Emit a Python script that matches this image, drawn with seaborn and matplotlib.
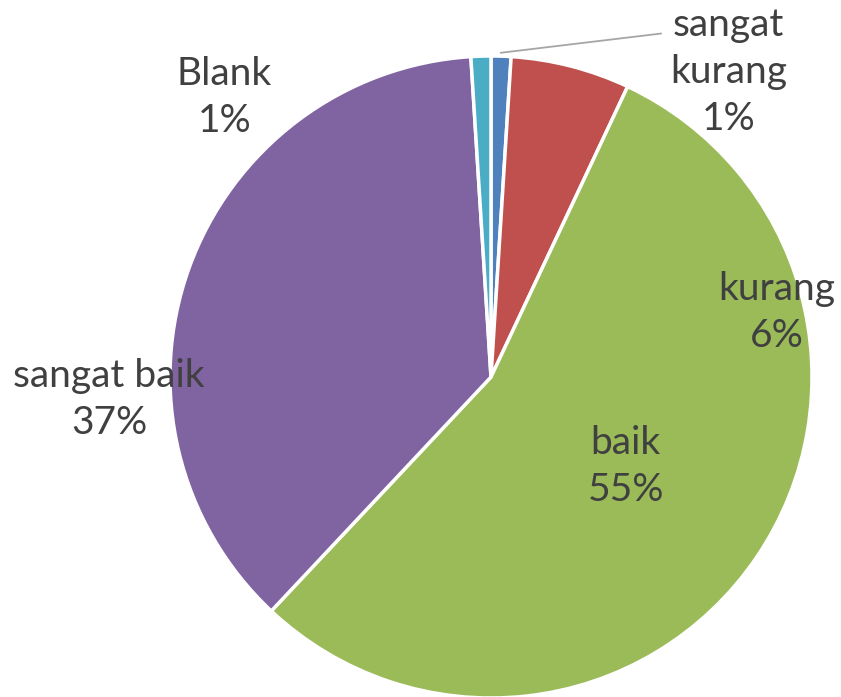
import matplotlib
matplotlib.use("Agg")
import matplotlib.pyplot as plt
import seaborn as sns

# data
categories = ["sangat kurang", "kurang", "baik", "sangat baik", "Blank"]
percents = [1, 6, 55, 37, 1]
colors = ["#4F81BD", "#C0504D", "#9BBB59", "#8064A2", "#4BACC6"]

sns.set_theme(style="white")
plt.rcParams['font.family'] = ['Lato', 'DejaVu Sans']

fig = plt.figure(figsize=(8.41, 6.97), dpi=100)
# pie centre ~ (491, 378) px, radius ~ 320 px
ax = fig.add_axes([170 / 841, -1 / 697, 642 / 841, 642 / 697])
wedges, _ = ax.pie(percents, colors=colors, startangle=90, counterclock=False,
                   radius=1.0, wedgeprops=dict(edgecolor="white", linewidth=2.5))
ax.set_xlim(-1, 1)
ax.set_ylim(-1, 1)
ax.set_aspect("equal")
ax.axis("off")

# label placement (in pie radius units, Excel "best fit" look)
label_pos = {
    "sangat kurang": (0.74, 0.95),
    "kurang": (0.89, 0.20),
    "baik": (0.42, -0.28),
    "sangat baik": (-1.19, -0.07),
    "Blank": (-0.83, 0.87),
}
for cat, p in zip(categories, percents):
    x, y = label_pos[cat]
    txt = cat.replace("sangat kurang", "sangat\nkurang") + "\n" + f"{p}%"
    ax.text(x, y, txt, ha="center", va="center", fontsize=28, color="#404040",
            linespacing=1.38, clip_on=False)

# leader line for the small slice
ax.plot([0.03, 0.53], [1.01, 1.07], color="#A6A6A6", lw=1.3, clip_on=False)

fig.savefig("out.png", dpi=100)
